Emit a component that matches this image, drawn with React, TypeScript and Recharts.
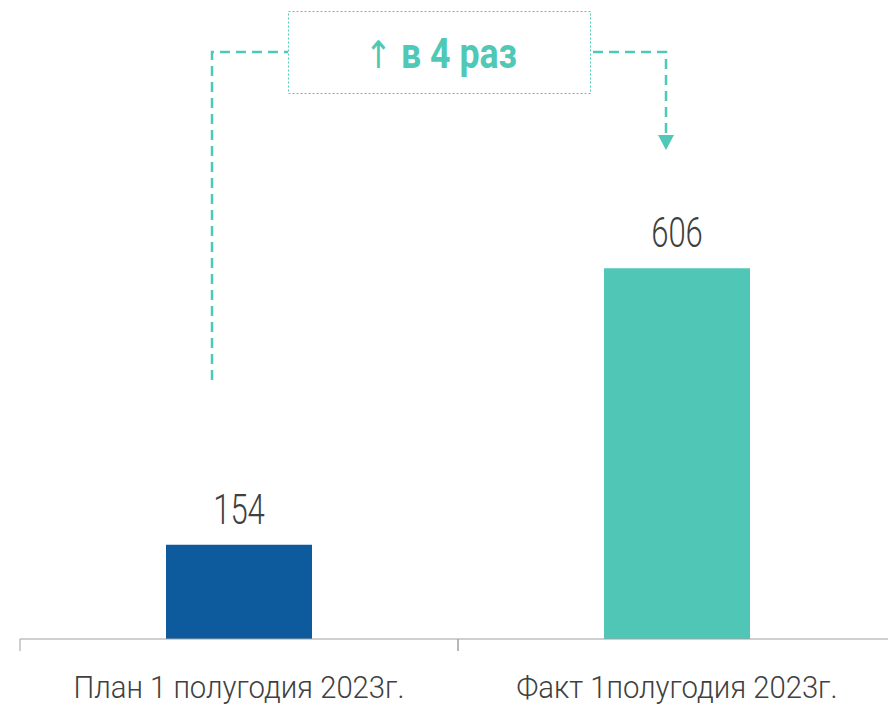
import React from 'react';
import { BarChart, Bar, XAxis, YAxis, LabelList, Cell } from 'recharts';

const categories = ['План 1 полугодия 2023г.', 'Факт 1полугодия 2023г.'];
const values = [154, 606];
const barColors = ['#0d5a9c', '#50c6b6'];
const annotationArrow = '↑';
const annotationText = ' в 4 раз';

const data = categories.map((name, i) => ({ name, value: values[i] }));

const FONT = 'Roboto, "Noto Sans", sans-serif';
const TEAL = '#4fc8b6';

const CustomTick = (props: any) => {
  const { x, y, payload } = props;
  const off = payload && typeof payload.offset === 'number' ? payload.offset : 0;
  const axisY = y - 36;
  return (
    <g>
      <line x1={x - off} x2={x - off} y1={axisY} y2={axisY + 12} stroke="#a0a0a0" strokeWidth={1} />
      <line x1={x + off} x2={x + off} y1={axisY} y2={axisY + 12} stroke="#a0a0a0" strokeWidth={1} />
      <g transform={`translate(${x},${y + 23}) scale(0.915,1)`}>
        <text x={0} y={0} textAnchor="middle" fill="#404040" fontSize={32} fontWeight={300} fontFamily={FONT}>
          {payload.value}
        </text>
      </g>
    </g>
  );
};

const ValueLabel = (props: any) => {
  const { x, y, width, value } = props;
  const cx = Number(x) + Number(width) / 2;
  return (
    <g transform={`translate(${cx},${Number(y) - 21}) scale(0.74,1)`}>
      <text x={0} y={0} textAnchor="middle" fill="#404040" fontSize={42} fontWeight={300} fontFamily={FONT}>
        {value}
      </text>
    </g>
  );
};

export default function App() {
  return (
    <div style={{ position: 'absolute', left: 0, top: 0, width: 888, height: 706, overflow: 'hidden', background: '#fff' }}>
      <BarChart width={904} height={706} data={data} margin={{ top: 27, right: 8, bottom: 0, left: 20 }}>
        <XAxis
          dataKey="name"
          height={67}
          axisLine={{ stroke: '#a0a0a0', strokeWidth: 1 }}
          tickLine={false}
          tickSize={0}
          tickMargin={36}
          tick={<CustomTick />}
          interval={0}
        />
        <YAxis hide domain={[0, 1000]} />
        <Bar dataKey="value" barSize={146} isAnimationActive={false}>
          {data.map((d, i) => (
            <Cell key={d.name} fill={barColors[i]} />
          ))}
          <LabelList dataKey="value" content={<ValueLabel />} />
        </Bar>
      </BarChart>
      <svg width={888} height={706} style={{ position: 'absolute', left: 0, top: 0, pointerEvents: 'none' }}>
        <polyline points="212,380 212,52 288,52" fill="none" stroke={TEAL} strokeWidth={2.5} strokeDasharray="10 6" />
        <rect x={288.5} y={11.5} width={302} height={82} fill="none" stroke={TEAL} strokeWidth={1} strokeDasharray="2 2" />
        <g transform="translate(441,68) scale(0.85,1)">
          <text x={0} y={0} textAnchor="middle" fill={TEAL} fontSize={42} fontWeight="bold" fontFamily={FONT}>
            <tspan fontFamily='"DejaVu Sans", sans-serif' fontWeight="normal" fontSize={38}>{annotationArrow}</tspan>
            <tspan>{annotationText}</tspan>
          </text>
        </g>
        <polyline points="593,52 666,52 666,136" fill="none" stroke={TEAL} strokeWidth={2.5} strokeDasharray="10 6" />
        <polygon points="658,135 674,135 666,150" fill={TEAL} />
      </svg>
    </div>
  );
}
